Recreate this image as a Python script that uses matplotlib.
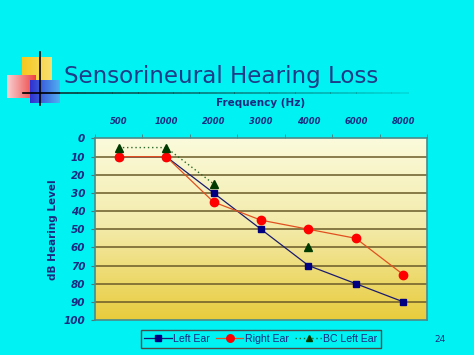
import matplotlib
matplotlib.use("Agg")
import matplotlib.pyplot as plt
import numpy as np
from matplotlib.colors import LinearSegmentedColormap

# ── Data ──────────────────────────────────────────────────────────────────────
FREQS = ["500", "1000", "2000", "3000", "4000", "6000", "8000"]
LEFT_EAR = [10, 10, 30, 50, 70, 80, 90]
RIGHT_EAR = [10, 10, 35, 45, 50, 55, 75]
BC_LEFT_EAR = [5, 5, 25, np.nan, 60, np.nan, np.nan]
Y_TICKS = [0, 10, 20, 30, 40, 50, 60, 70, 80, 90, 100]

# ── Colours ───────────────────────────────────────────────────────────────────
BG = "#00f2f2"
NAVY = "#1a2a80"
TITLE = "#1f3c88"

fig = plt.figure(figsize=(4.74, 3.55), dpi=100, facecolor=BG)

# decorative squares by the title
deco = fig.add_axes([0, 0, 1, 1], facecolor="none")
deco.set_xlim(0, 474)
deco.set_ylim(355, 0)
deco.axis("off")
grad_y = LinearSegmentedColormap.from_list("y", ["#f6c81e", "#f8e070"])
deco.imshow(np.linspace(0, 1, 50).reshape(1, -1), cmap=grad_y, aspect="auto",
            extent=(22, 52, 80, 57), zorder=1)
grad_r = LinearSegmentedColormap.from_list("r", ["#f8d0d0", "#f04040"])
deco.imshow(np.linspace(0, 1, 50).reshape(1, -1), cmap=grad_r, aspect="auto",
            extent=(7, 36, 98, 75), zorder=2)
grad_b = LinearSegmentedColormap.from_list("b", ["#3030d0", "#50b0f0"])
deco.imshow(np.linspace(0, 1, 50).reshape(1, -1), cmap=grad_b, aspect="auto",
            extent=(30, 60, 103, 80), zorder=3)
deco.plot([40, 40], [52, 105], color="black", lw=1.2, zorder=4)
deco.plot([23, 60], [93, 93], color="black", lw=1.2, zorder=4)
for i, xs in enumerate(np.linspace(60, 400, 40)):
    deco.plot([xs, xs + 9], [93, 93], color="#0a5050", lw=1.4,
              alpha=max(0.0, 1 - i / 45), solid_capstyle="butt", zorder=4)
deco.text(64, 76, "Sensorineural Hearing Loss", fontsize=16.6, color=TITLE,
          va="center", ha="left", family="DejaVu Sans")
deco.text(440, 340, "24", fontsize=6.5, color=NAVY, ha="center", va="center")

# ── Chart ─────────────────────────────────────────────────────────────────────
ax = fig.add_axes([0.2004, 0.0986, 0.7004, 0.5113])
x = np.arange(len(FREQS))
ax.set_xlim(-0.5, len(FREQS) - 0.5)
ax.set_ylim(100, 0)

grad = LinearSegmentedColormap.from_list("g", ["#fbfbdc", "#f3eaa8", "#e8cc3c"])
ax.imshow(np.linspace(0, 1, 256).reshape(-1, 1), cmap=grad, aspect="auto",
          extent=(-0.5, len(FREQS) - 0.5, 100, 0), zorder=0)

for yv in Y_TICKS[1:-1]:
    ax.axhline(yv, color="#6a5a28", lw=1.1, zorder=1)

ax.plot(x, LEFT_EAR, color="#1a1a70", lw=0.9, marker="s", ms=5,
        mfc="#000080", mec="#000080", label="Left Ear", zorder=3)
ax.plot(x, RIGHT_EAR, color="#e05020", lw=0.9, marker="o", ms=6,
        mfc="#ff0000", mec="#ff0000", label="Right Ear", zorder=4)
ax.plot(x, BC_LEFT_EAR, color="#2a6a2a", lw=1.0, ls=(0, (1, 2)), marker="^",
        ms=5.5, mfc="#003a00", mec="#003a00", label="BC Left Ear", zorder=5)

ax.xaxis.tick_top()
ax.set_xticks(x)
ax.set_xticklabels(FREQS)
ax.set_xticks(np.arange(-0.5, len(FREQS)), minor=True)
ax.tick_params(axis="x", which="major", length=0, pad=9)
ax.tick_params(axis="x", which="minor", length=3, color="#4a7a7a", top=True)
ax.set_yticks(Y_TICKS)
ax.tick_params(axis="y", length=3, color="#4a7a7a", pad=4)
for lab in ax.get_xticklabels() + ax.get_yticklabels():
    lab.set_fontstyle("italic")
    lab.set_fontweight("bold")
    lab.set_color(NAVY)
for lab in ax.get_xticklabels():
    lab.set_fontsize(6)
for lab in ax.get_yticklabels():
    lab.set_fontsize(7.5)

for spine in ax.spines.values():
    spine.set_color("#4a8a8a")
    spine.set_linewidth(1.2)

ax.set_xlabel("Frequency (Hz)", fontsize=7.5, fontweight="bold", color=NAVY,
              labelpad=8)
ax.xaxis.set_label_position("top")
ax.set_ylabel("dB Hearing Level", fontsize=7.5, fontweight="bold", color=NAVY,
              labelpad=4)

leg = ax.legend(loc="upper center", bbox_to_anchor=(0.5, -0.028), ncol=3,
                frameon=True, fancybox=False, facecolor=BG, framealpha=1,
                edgecolor="#4a4a4a", handlelength=2.6, handletextpad=0.1,
                columnspacing=0.6, borderpad=0.35, markerscale=0.9,
                prop={"family": "Liberation Sans", "size": 7.6})
leg.get_frame().set_linewidth(1.0)
for t in leg.get_texts():
    t.set_color(NAVY)

fig.savefig("out.png", dpi=100, facecolor=BG)
